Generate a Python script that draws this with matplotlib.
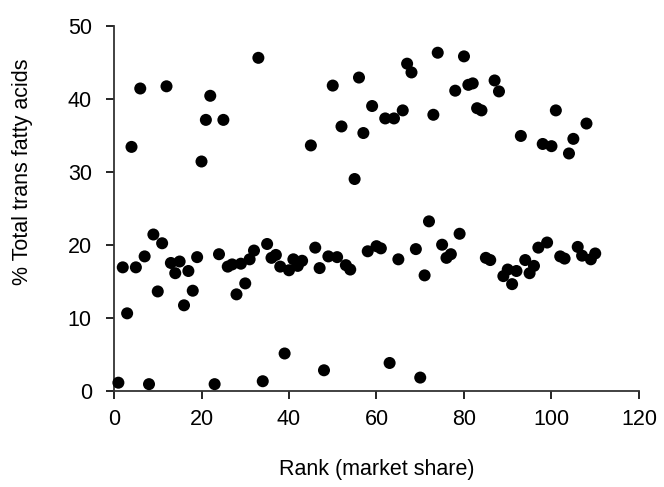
import matplotlib.pyplot as plt

plt.rcParams['font.family'] = ['Liberation Sans', 'DejaVu Sans']

# rank by market share and % total trans fatty acids
rank = [1, 2, 3, 4, 5, 6, 7, 8, 9, 10, 11, 12, 13, 14, 15, 16, 17, 18, 19, 20,
        21, 22, 23, 24, 25, 26, 27, 28, 29, 30, 31, 32, 33, 34, 35, 36, 37, 38, 39, 40,
        41, 42, 43, 45, 46, 47, 48, 49, 50, 51, 52, 53, 54, 55, 56, 57, 58, 59, 60,
        61, 62, 63, 64, 65, 66, 67, 68, 69, 70, 71, 72, 73, 74, 75, 76, 77, 78, 79, 80,
        81, 82, 83, 84, 85, 86, 87, 88, 89, 90, 91, 92, 93, 94, 95, 96, 97, 98, 99, 100,
        101, 102, 103, 104, 105, 106, 107, 108, 109, 110]
trans = [1.1, 16.9, 10.6, 33.4, 16.9, 41.4, 18.4, 0.9, 21.4, 13.6, 20.2, 41.7, 17.5, 16.1, 17.7, 11.7, 16.4, 13.7, 18.3, 31.4,
         37.1, 40.4, 0.9, 18.7, 37.1, 17.0, 17.3, 13.2, 17.4, 14.7, 18.0, 19.2, 45.6, 1.3, 20.1, 18.2, 18.6, 17.0, 5.1, 16.5,
         18.0, 17.1, 17.8, 33.6, 19.6, 16.8, 2.8, 18.4, 41.8, 18.3, 36.2, 17.2, 16.6, 29.0, 42.9, 35.3, 19.1, 39.0, 19.8,
         19.5, 37.3, 3.8, 37.3, 18.0, 38.4, 44.8, 43.6, 19.4, 1.8, 15.8, 23.2, 37.8, 46.3, 20.0, 18.2, 18.7, 41.1, 21.5, 45.8,
         41.9, 42.1, 38.7, 38.4, 18.2, 17.9, 42.5, 41.0, 15.7, 16.6, 14.6, 16.4, 34.9, 17.9, 16.1, 17.1, 19.6, 33.8, 20.3, 33.5,
         38.4, 18.4, 18.1, 32.5, 34.5, 19.7, 18.5, 36.6, 18.0, 18.8]

fig = plt.figure(figsize=(6.64, 4.87), dpi=100)
ax = fig.add_axes([0.1717, 0.1977, 0.7906, 0.7495])

ax.scatter(rank, trans, s=75, color='black', edgecolors='none', clip_on=False, zorder=3)

ax.set_xlim(0, 120)
ax.set_ylim(0, 50)
ax.set_xticks(range(0, 121, 20))
ax.set_yticks(range(0, 51, 10))

for side in ['top', 'right']:
    ax.spines[side].set_visible(False)
for side in ['left', 'bottom']:
    ax.spines[side].set_linewidth(1.3)
    ax.spines[side].set_color('#333333')

ax.tick_params(axis='x', direction='out', length=6, width=1.2, pad=7, labelsize=15.5)
ax.tick_params(axis='y', direction='out', length=6, width=1.2, pad=10, labelsize=15.5)

ax.set_xlabel('Rank (market share)', fontsize=15.5, va='center')
ax.set_ylabel('% Total trans fatty acids', fontsize=15.5, va='center')
ax.xaxis.set_label_coords(0.5, -0.2145)
ax.yaxis.set_label_coords(-0.175, 0.6)

fig.savefig('out.png', dpi=100)
